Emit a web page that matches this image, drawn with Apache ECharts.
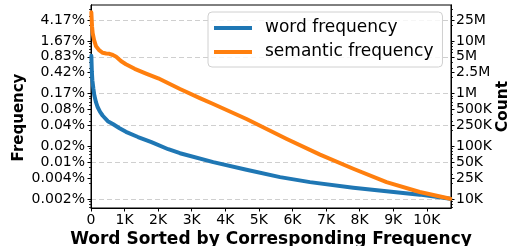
<!DOCTYPE html>
<html>
<head>
<meta charset="utf-8">
<script src="https://cdn.jsdelivr.net/npm/echarts@6/dist/echarts.min.js"></script>
<style>
  html, body { margin: 0; padding: 0; background: #fff; }
  #chart { width: 513px; height: 246px; }
</style>
</head>
<body>
<div id="chart"></div>
<script>
// word rank (x) and count (y)
const wordRank = [10, 25, 40, 70, 100, 150, 200, 270, 350, 500, 650, 850, 1040, 1400, 1800, 2300, 2650, 3640, 4630, 5630, 6520, 7810, 8800, 9790, 10700];
const wordCount = [5.2e6, 2.6e6, 1.8e6, 1.25e6, 9.2e5, 6.8e5, 5.5e5, 4.5e5, 3.8e5, 3.0e5, 2.65e5, 2.2e5, 1.88e5, 1.5e5, 1.2e5, 8.8e4, 7.4e4, 5.0e4, 3.6e4, 2.6e4, 2.09e4, 1.64e4, 1.4e4, 1.21e4, 1.01e4];

const semRank = [10, 30, 50, 90, 150, 250, 350, 450, 550, 650, 750, 900, 1040, 1300, 1640, 2000, 2650, 3240, 3640, 4630, 5830, 6820, 7810, 8800, 9790, 10700];
const semCount = [3.5e7, 1.9e7, 1.4e7, 1.05e7, 7.9e6, 6.6e6, 5.94e6, 5.75e6, 5.69e6, 5.4e6, 5.0e6, 4.1e6, 3.6e6, 2.95e6, 2.4e6, 1.95e6, 1.22e6, 8.2e5, 6.35e5, 3.3e5, 1.38e5, 6.97e4, 3.75e4, 2.09e4, 1.36e4, 1.01e4];

// y ticks: counts on the right, share of total on the left
const tickValues = [1e4, 2.5e4, 5e4, 1e5, 2.5e5, 5e5, 1e6, 2.5e6, 5e6, 1e7, 2.5e7];
const countLabels = ['10K', '25K', '50K', '100K', '250K', '500K', '1M', '2.5M', '5M', '10M', '25M'];
const pctLabels = ['0.002%', '0.004%', '0.01%', '0.02%', '0.04%', '0.08%', '0.17%', '0.42%', '0.83%', '1.67%', '4.17%'];
const gridValues = [1e4, 5e4, 2.5e5, 1e6, 5e6, 2.5e7];
const minorValues = [7e3, 8e3, 9e3, 2e4, 3e4, 4e4, 6e4, 7e4, 8e4, 9e4, 2e5, 3e5, 4e5, 6e5, 7e5, 8e5, 9e5,
  2e6, 3e6, 4e6, 6e6, 7e6, 8e6, 9e6, 2e7, 3e7, 4e7];

const yMin = 6750;
const yMax = 4.8e7;
const font = 'DejaVu Sans';

function pick(labels) {
  return function (v) {
    let best = 0;
    let d = Infinity;
    tickValues.forEach(function (t, i) {
      const e = Math.abs(Math.log(v) - Math.log(t));
      if (e < d) { d = e; best = i; }
    });
    return labels[best];
  };
}

function zip(xs, ys) {
  return xs.map(function (x, i) { return [x, ys[i]]; });
}

const chart = echarts.init(document.getElementById('chart'));

const baseY = {
  type: 'log',
  min: yMin,
  max: yMax,
  splitLine: { show: false },
  axisLine: { show: true, lineStyle: { color: '#000', width: 1 } }
};

const option = {
  animation: false,
  grid: {
    left: 91, right: 62, top: 5, bottom: 38,
    outerBoundsMode: 'none',
    containLabel: false,
    show: true, borderColor: '#000', borderWidth: 1
  },
  legend: {
    orient: 'vertical',
    left: 208, top: 12,
    padding: [6, 9, 5, 6],
    itemGap: 4,
    itemWidth: 38, itemHeight: 4,
    icon: 'rect',
    borderColor: '#d0d0d0', borderWidth: 1, borderRadius: 4,
    backgroundColor: 'rgba(255,255,255,0.8)',
    textStyle: { fontFamily: font, fontSize: 17, color: '#000', lineHeight: 20, padding: [0, 0, 0, 8] },
    data: ['word frequency', 'semantic frequency']
  },
  xAxis: {
    type: 'value',
    min: 0, max: 10720, interval: 1000,
    name: 'Word Sorted by Corresponding Frequency',
    nameLocation: 'middle', nameGap: 23, nameMoveOverlap: false,
    nameTextStyle: { fontFamily: font, fontSize: 17, fontWeight: 'bold', color: '#000' },
    axisLine: { lineStyle: { color: '#000', width: 1 } },
    axisTick: { length: 3.5, lineStyle: { color: '#000' } },
    axisLabel: {
      margin: 5, fontFamily: font, fontSize: 14, color: '#000', showMaxLabel: false,
      formatter: function (v) { return v === 0 ? '0' : (v / 1000) + 'K'; }
    },
    splitLine: { show: false }
  },
  yAxis: [
    Object.assign({}, baseY, {
      position: 'left',
      name: 'Frequency', nameLocation: 'middle', nameGap: 64, nameMoveOverlap: false,
      nameTextStyle: { fontFamily: font, fontSize: 15, fontWeight: 'bold', color: '#000', padding: [0, 22, 0, 0] },
      axisTick: { show: true, length: 3.5, customValues: tickValues, lineStyle: { color: '#000' } },
      axisLabel: { customValues: tickValues, margin: 6, fontFamily: font, fontSize: 14, color: '#000', formatter: pick(pctLabels) }
    }),
    Object.assign({}, baseY, {
      position: 'right',
      name: 'Count', nameLocation: 'middle', nameGap: 44, nameMoveOverlap: false,
      nameTextStyle: { fontFamily: font, fontSize: 15.5, fontWeight: 'bold', color: '#000' },
      axisTick: { show: true, length: 3.5, customValues: tickValues, lineStyle: { color: '#000' } },
      axisLabel: { customValues: tickValues, margin: 5, fontFamily: font, fontSize: 14, color: '#000', formatter: pick(countLabels) }
    }),
    Object.assign({}, baseY, {
      position: 'left',
      axisTick: { show: true, length: 2, customValues: minorValues, lineStyle: { color: '#000', width: 0.8 } },
      axisLabel: { show: false }
    }),
    Object.assign({}, baseY, {
      position: 'right',
      axisTick: { show: true, length: 2, customValues: minorValues, lineStyle: { color: '#000', width: 0.8 } },
      axisLabel: { show: false }
    }),
    Object.assign({}, baseY, {
      position: 'left',
      axisLine: { show: false },
      axisTick: { show: false, customValues: gridValues },
      axisLabel: { show: false },
      splitLine: { show: true, lineStyle: { color: '#cfcfcf', width: 1, type: [5, 3] } }
    })
  ],
  series: [
    {
      name: 'word frequency',
      type: 'line',
      yAxisIndex: 0,
      data: zip(wordRank, wordCount),
      showSymbol: false,
      smooth: false,
      itemStyle: { color: '#1f77b4' },
      lineStyle: { color: '#1f77b4', width: 4, join: 'round', cap: 'round' }
    },
    {
      name: 'semantic frequency',
      type: 'line',
      yAxisIndex: 0,
      data: zip(semRank, semCount),
      showSymbol: false,
      smooth: false,
      itemStyle: { color: '#ff7f0e' },
      lineStyle: { color: '#ff7f0e', width: 4, join: 'round', cap: 'round' }
    }
  ]
};

chart.setOption(option);
</script>
</body>
</html>
